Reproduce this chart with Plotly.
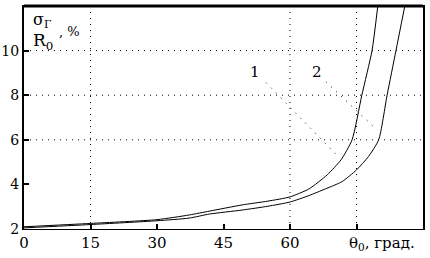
import plotly.graph_objects as go

# Data
x1 = [0, 15, 30, 37.3, 41.8, 49.2, 55, 60, 64.3, 68.4, 71.5, 74, 76.2, 78.5, 79.8]
y1 = [2.1, 2.25, 2.42, 2.63, 2.8, 3.08, 3.25, 3.44, 3.8, 4.43, 5.1, 6.0, 8.0, 10.0, 12.0]
x2 = [0, 15, 30, 37.3, 41.8, 49.2, 55, 60, 64.3, 68.0, 71.7, 75, 77.7, 80, 81.9, 83.9, 85.9]
y2 = [2.05, 2.2, 2.37, 2.49, 2.67, 2.85, 3.02, 3.21, 3.5, 3.8, 4.12, 4.65, 5.25, 6.0, 8.0, 10.0, 12.0]

xticks = [0, 15, 30, 45, 60]
xtick_text = ["0", "15", "30", "45", "60"]
yticks = [2, 4, 6, 8, 10, 12]
xgrid = [15, 60, 75]
ygrid = [6, 8, 10]
labels = ["1", "2"]
label_pos = [(52.2, 9.06), (66.1, 9.06)]
leaders = [((54.6, 8.56), (71.1, 5.2)), ((68.1, 8.6), (79.6, 6.45))]

FONT = "DejaVu Serif"

fig = go.Figure()
fig.add_trace(go.Scatter(x=x1, y=y1, mode="lines",
                         line=dict(color="black", width=1, shape="spline", smoothing=0.6),
                         showlegend=False, hoverinfo="skip"))
fig.add_trace(go.Scatter(x=x2, y=y2, mode="lines",
                         line=dict(color="black", width=1, shape="spline", smoothing=0.6),
                         showlegend=False, hoverinfo="skip"))

DOT = "1px,5px"
shapes = []
for gx in xgrid:
    shapes.append(dict(type="line", xref="x", yref="y", x0=gx, x1=gx, y0=2, y1=12,
                       line=dict(color="black", width=1, dash=DOT), layer="below"))
for gy in ygrid:
    shapes.append(dict(type="line", xref="x", yref="y", x0=0, x1=90, y0=gy, y1=gy,
                       line=dict(color="black", width=1, dash=DOT), layer="below"))
for (a, b) in leaders:
    shapes.append(dict(type="line", xref="x", yref="y", x0=a[0], y0=a[1], x1=b[0], y1=b[1],
                       line=dict(color="black", width=1, dash="1px,6px")))
# thick top border
shapes.append(dict(type="line", xref="paper", yref="paper", x0=0, x1=1, y0=1, y1=1,
                   line=dict(color="black", width=3)))

annotations = []
for t, (ax, ay) in zip(labels, label_pos):
    annotations.append(dict(x=ax, y=ay, xref="x", yref="y", text=t, showarrow=False,
                            font=dict(family=FONT, size=15, color="black")))
annotations.append(dict(x=75, y=0, xref="x", yref="paper", text="θ<sub>0</sub>, град.", showarrow=False,
                        xanchor="left", yanchor="top", xshift=-10, yshift=-3,
                        font=dict(family=FONT, size=15, color="black")))
annotations.append(dict(x=0, y=12, xref="x", yref="y", text="σ<sub>Г</sub>", showarrow=False,
                        xanchor="left", yanchor="top", xshift=7, yshift=-2,
                        font=dict(family=FONT, size=16, color="black")))
annotations.append(dict(x=0, y=12, xref="x", yref="y", text="R<sub>0</sub>", showarrow=False,
                        xanchor="left", yanchor="top", xshift=7, yshift=-22,
                        font=dict(family=FONT, size=17, color="black")))
annotations.append(dict(x=0, y=12, xref="x", yref="y", text=", %", showarrow=False,
                        xanchor="left", yanchor="top", xshift=33, yshift=-16,
                        font=dict(family=FONT, size=13, color="black")))

fig.update_layout(
    width=430, height=258,
    margin=dict(l=24, r=7, t=6, b=29, autoexpand=False),
    paper_bgcolor="white", plot_bgcolor="white",
    shapes=shapes, annotations=annotations,
    font=dict(family=FONT, size=15, color="black"),
)
fig.update_xaxes(range=[0, 90], tickvals=xticks + [75], ticktext=xtick_text + [""],
                 showgrid=False, zeroline=False, showline=True, linecolor="black", linewidth=1,
                 mirror=True, ticks="inside", ticklen=5, tickcolor="black", tickwidth=2,
                 tickfont=dict(family=FONT, size=15))
fig.update_yaxes(range=[2, 12], tickvals=yticks, showgrid=False, zeroline=False,
                 showline=True, linecolor="black", linewidth=2, mirror=True,
                 ticks="inside", ticklen=5, tickcolor="black", tickwidth=2,
                 tickfont=dict(family=FONT, size=14))

fig.write_html("out.html", config={"displayModeBar": False},
               post_script="document.body.style.margin='0';document.body.style.padding='0';"
                           "document.documentElement.style.overflow='hidden';")
